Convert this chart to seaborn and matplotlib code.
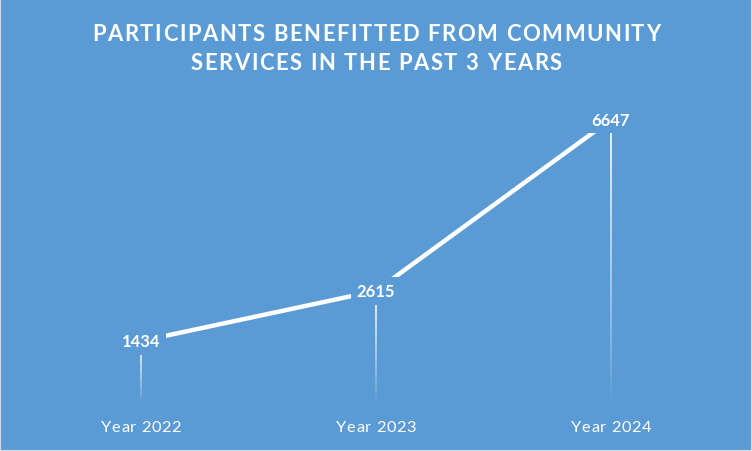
import matplotlib
matplotlib.use("Agg")
import matplotlib.pyplot as plt
import seaborn as sns
import pandas as pd
import numpy as np
from matplotlib.collections import LineCollection
from matplotlib.font_manager import FontProperties, findfont, get_font

years = ["Year 2022", "Year 2023", "Year 2024"]
participants = [1434, 2615, 6647]
title_lines = ["PARTICIPANTS BENEFITTED FROM COMMUNITY", "SERVICES IN THE PAST 3 YEARS"]

BG = "#5B9BD5"
W, H = 752, 452
df = pd.DataFrame({"year": years, "participants": participants})

sns.set_style("white")
plt.rcParams["font.family"] = ["Lato", "DejaVu Sans"]

fig = plt.figure(figsize=(W / 100, H / 100), dpi=100, facecolor=BG)
fig.patches.append(plt.Rectangle((0, 0), 1, 1, transform=fig.transFigure,
                                 fill=False, edgecolor="#D9D9D9", linewidth=1.5))
ax = fig.add_axes([23.5 / W, (H - 403) / H, 705 / W, (403 - 105.5) / H])
ax.set_facecolor(BG)

sns.lineplot(data=df, x="year", y="participants", ax=ax, color="white",
             linewidth=3.2, sort=False, zorder=3)

ax.set_xlim(-0.5, 2.5)
ax.set_ylim(0, 7000)

# gradient drop lines
for i, v in enumerate(participants):
    ys = np.linspace(v, 0, 80)
    segs = [[(i, ys[k]), (i, ys[k + 1])] for k in range(len(ys) - 1)]
    alphas = np.linspace(0.95, 0.0, len(segs)) ** 0.8
    cols = [(1, 1, 1, a) for a in alphas]
    ax.add_collection(LineCollection(segs, colors=cols, linewidths=1.3, zorder=2))

for i, v in enumerate(participants):
    ax.text(i, v, f"{v}", ha="center", va="center", color="white",
            fontsize=12, fontweight="bold", zorder=5,
            bbox=dict(boxstyle="square,pad=0.35", facecolor=BG, edgecolor="none"))

ax.set_xlabel("")
ax.set_ylabel("")
ax.set_yticks([])
ax.set_xticks(range(len(years)))
ax.set_xticklabels([])
ax.tick_params(axis="x", length=0)
for s in ax.spines.values():
    s.set_visible(False)


def make_font(size, weight):
    fp = FontProperties(family="Lato", weight=weight, size=size)
    f = get_font(findfont(fp))
    f.set_size(size, 100)
    return fp, f


def spaced_text(s, cx, base, fp, f, spacing):
    adv = [f.load_char(ord(c)).linearHoriAdvance / 65536 for c in s]
    total = sum(adv) + spacing * (len(s) - 1)
    x = cx - total / 2
    for c, a in zip(s, adv):
        if c != " ":
            fig.text(x / W, 1 - base / H, c, ha="left", va="baseline",
                     color="white", fontproperties=fp)
        x += a + spacing


# letter-spaced title
fp_t, f_t = make_font(15.8, "bold")
adv1 = [f_t.load_char(ord(c)).linearHoriAdvance / 65536 for c in title_lines[0]]
sp_t = (568.0 - sum(adv1)) / (len(title_lines[0]) - 1)
for line, base in zip(title_lines, [41, 70]):
    spaced_text(line, W / 2, base, fp_t, f_t, sp_t)

# category labels
fp_x, f_x = make_font(11.8, "normal")
for i, lab in enumerate(years):
    cx = ax.transData.transform((i, 0))[0]
    spaced_text(lab, cx, 432, fp_x, f_x, 0.6)

fig.savefig("out.png", dpi=100, facecolor=BG)
